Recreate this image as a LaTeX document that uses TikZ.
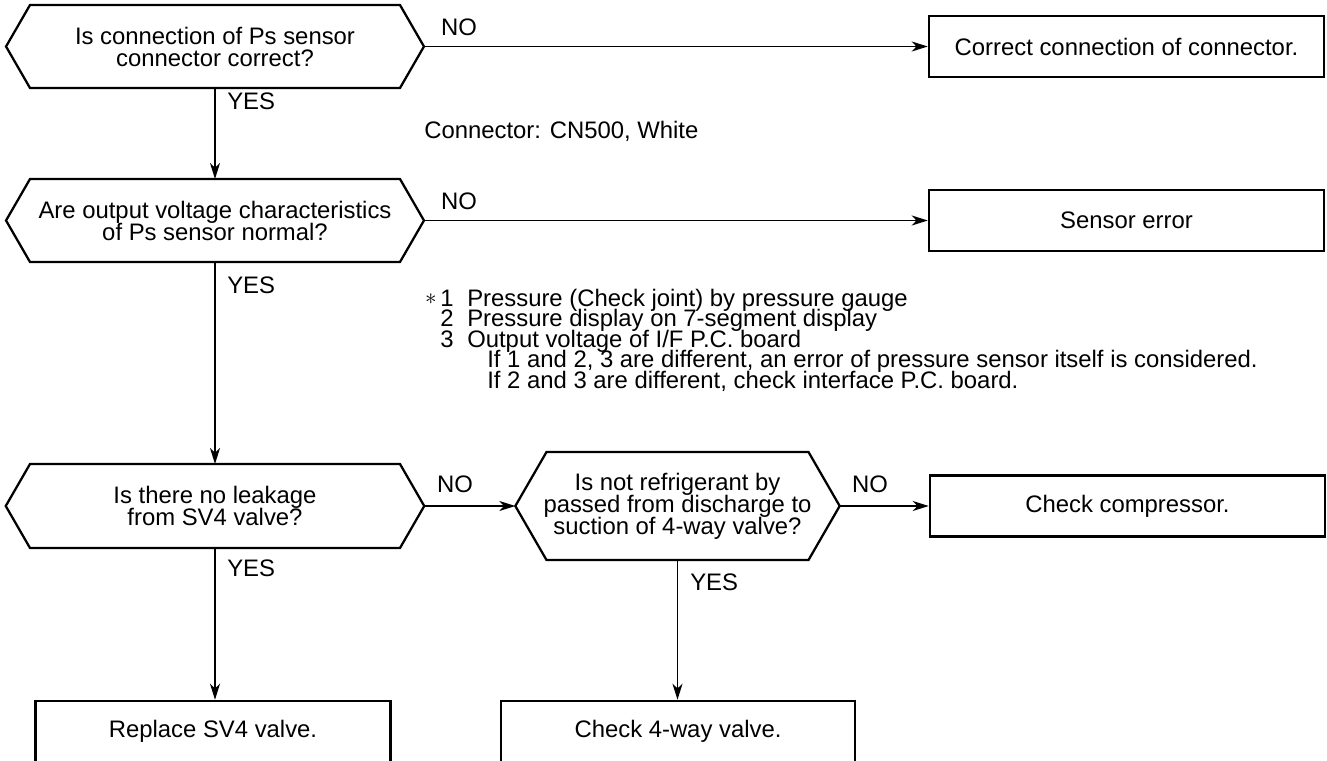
\documentclass[tikz,border=0pt]{standalone}
\usepackage{fontspec}
\setmainfont{Liberation Sans}
\usetikzlibrary{arrows.meta,calc}
\newcommand\hexq[6]{% name, cx, cy, half body width, half height, text
  \node[qtext] (#1) at (#2,#3) {#6};
  \coordinate (#1-n) at ({#2},{#3-#5});
  \coordinate (#1-s) at ({#2},{#3+#5});
  \coordinate (#1-l) at ({#2-#4-#5*0.57735},{#3});
  \coordinate (#1-r) at ({#2+#4+#5*0.57735},{#3});
  \draw[hexline] ({#2-#4},{#3-#5}) -- ({#2+#4},{#3-#5}) -- (#1-r)
     -- ({#2+#4},{#3+#5}) -- ({#2-#4},{#3+#5}) -- (#1-l) -- cycle;}
\newcommand\tightfont{\fontsize{17.9}{16.5}\selectfont\lineskiplimit=-30pt\relax}
\begin{document}
\begin{tikzpicture}[x=0.75pt,y=-0.75pt,
  every node/.style={font={\tightfont}},
  qtext/.style={align=center, inner sep=0pt},
  hexline/.style={line width=1.7pt, line join=miter},
  actbox/.style={draw, line width=1.9pt, minimum height=45.75pt, inner sep=0pt},
  conn/.style={line width=1pt, -{Stealth[length=12pt,width=7.5pt,inset=3.5pt]}},
  lbl/.style={inner sep=0pt, anchor=west},
  note/.style={inner sep=0pt, anchor=base west, text height=11pt, text depth=2.8pt}]
\useasboundingbox (0,0) rectangle (1327,760);

\hexq{h1}{215}{46.5}{185}{41.5}{Is connection of Ps sensor\\connector correct?}
\hexq{h2}{215}{220.5}{185}{41.5}{Are output voltage characteristics\\of Ps sensor normal?}
\hexq{h3}{215}{506}{185}{42}{Is there no leakage\\from SV4 valve?}
\hexq{h4}{677.5}{506}{131}{54}{Is not refrigerant by\\passed from discharge to\\suction of 4-way valve?}

\node[actbox, minimum width=296.25pt] (b1) at (1126.5,46.5) {Correct connection of connector.};
\node[actbox, minimum width=296.25pt] (b2) at (1126.5,220.5) {Sensor error};
\node[actbox, minimum width=296.25pt] (b3) at (1127.5,506) {Check compressor.};
\node[actbox, minimum width=266.25pt] (b4) at (213,731.5) {Replace SV4 valve.};
\node[actbox, minimum width=265.5pt] (b5) at (678,731.5) {Check 4-way valve.};

\draw[conn] (h1-s) -- (h2-n);
\draw[conn] (h1-r) -- (b1.west);
\draw[conn] (h2-s) -- (h3-n);
\draw[conn] (h2-r) -- (b2.west);
\draw[conn] (h3-r) -- (h4-l);
\draw[conn] (h4-r) -- (b3.west);
\draw[conn] (h3-s) -- (h3-s |- b4.north);
\draw[conn] (h4-s) -- (h4-s |- b5.north);

\node[inner sep=0pt] (no1) at (459,27) {NO};
\node[inner sep=0pt] (no2) at (459,201) {NO};
\node[inner sep=0pt] (no3) at (455,484) {NO};
\node[inner sep=0pt] (no4) at (870,484) {NO};
\node[lbl] (yes1) at (227,101.5) {YES};
\node[lbl] (yes2) at (227,285) {YES};
\node[lbl] (yes3) at (227,568.5) {YES};
\node[lbl] (yes4) at (690,582) {YES};

\node[lbl] (cn) at (424,131) {Connector: CN500, White};

\node[inner sep=0pt] (ast) at (431,299.5) {$\ast$};
\node[note] (n1n) at (440,306) {1};
\node[note] (n1) at (467,306) {Pressure (Check joint) by pressure gauge};
\node[note] (n2n) at (440,326.5) {2};
\node[note] (n2) at (467,326.5) {Pressure display on 7-segment display};
\node[note] (n3n) at (440,347) {3};
\node[note] (n3) at (467,347) {Output voltage of I/F P.C. board};
\node[note] (n4) at (487,367.5) {If 1 and 2, 3 are different, an error of pressure sensor itself is considered.};
\node[note] (n5) at (487,388) {If 2 and 3 are different, check interface P.C. board.};
\end{tikzpicture}
\end{document}
